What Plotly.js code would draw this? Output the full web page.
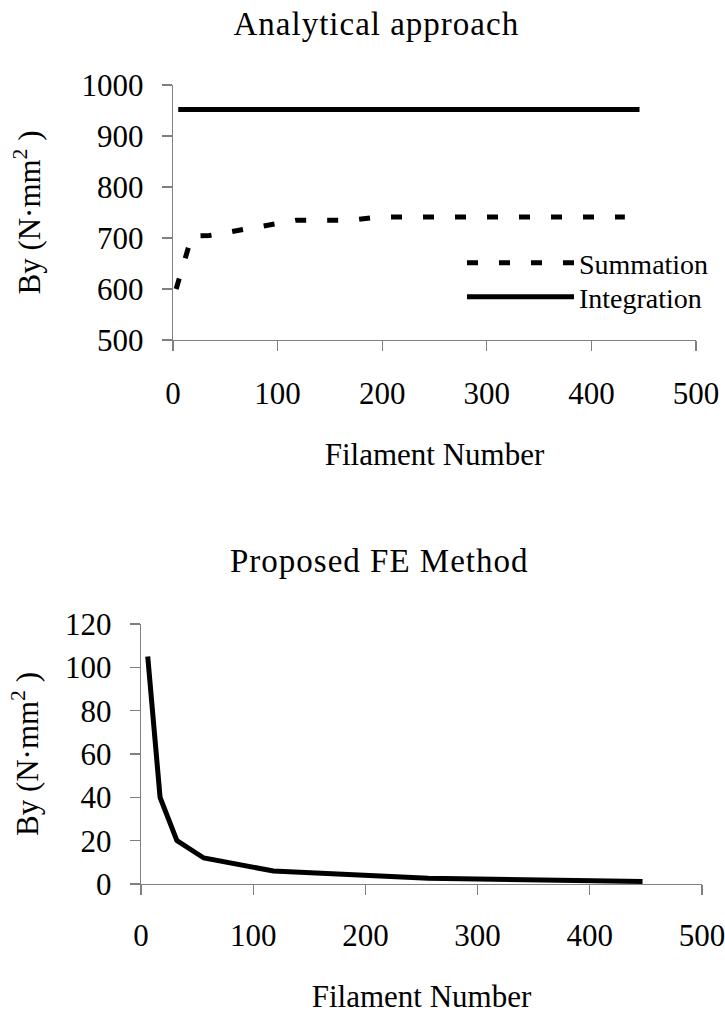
<!DOCTYPE html>
<html>
<head>
<meta charset="utf-8">
<script src="https://cdn.plot.ly/plotly-3.0.1.min.js"></script>
<style>
html,body{margin:0;padding:0;background:#fff}
#chart .annotation-text{letter-spacing:1px}
</style>
</head>
<body>
<div id="chart" style="width:725px;height:1014px"></div>
<script>
// ---- data ----
const sumX = [3, 18, 35, 118, 170, 195, 432];
const sumY = [600, 704, 705, 735, 735, 741, 741];
const intX = [5, 446];
const intY = [952, 952];
const feX = [6, 17, 32, 56, 118, 256, 447];
const feY = [105, 40, 20, 12, 6, 2.6, 1.2];
const xTicks = [0, 100, 200, 300, 400, 500];
const topYTicks = [500, 600, 700, 800, 900, 1000];
const botYTicks = [0, 20, 40, 60, 80, 100, 120];
const topTitle = 'Analytical approach';
const botTitle = 'Proposed FE Method';
const xTitle = 'Filament Number';
const yTitle = 'By (N·mm<sup>2</sup> )';

const FONT = 'Liberation Serif, Times New Roman, serif';
const W = 725, H = 1014;
const px = v => v / W;
const py = v => (H - v) / H;

const traces = [
  {x: sumX, y: sumY, name: 'Summation', type: 'scatter', mode: 'lines',
   line: {color: '#000', width: 5, dash: '11px,21px'}, xaxis: 'x', yaxis: 'y', legend: 'legend'},
  {x: intX, y: intY, name: 'Integration', type: 'scatter', mode: 'lines',
   line: {color: '#000', width: 5}, xaxis: 'x', yaxis: 'y', legend: 'legend2'},
  {x: feX, y: feY, name: 'Proposed FE', type: 'scatter', mode: 'lines',
   line: {color: '#000', width: 5}, xaxis: 'x2', yaxis: 'y2', showlegend: false}
];

const axCommon = {
  showline: true, linecolor: '#808080', linewidth: 1.3,
  ticks: 'outside', ticklen: 10, tickcolor: '#808080', tickwidth: 1.3,
  showgrid: false, zeroline: false,
  tickfont: {family: FONT, size: 31, color: '#000'},
  ticklabeloverflow: 'allow',
  fixedrange: true
};

const legCommon = {
  xanchor: 'left', yanchor: 'middle',
  bgcolor: 'rgba(0,0,0,0)', borderwidth: 0,
  font: {family: FONT, size: 28, color: '#000'},
  itemwidth: 107
};

const layout = {
  width: W, height: H,
  margin: {l: 0, r: 0, t: 0, b: 0},
  paper_bgcolor: '#fff', plot_bgcolor: '#fff',
  font: {family: FONT, color: '#000'},
  showlegend: true,
  legend: Object.assign({}, legCommon, {x: px(462), y: py(263)}),
  legend2: Object.assign({}, legCommon, {x: px(462), y: py(297)}),
  xaxis: Object.assign({}, axCommon, {
    domain: [px(173), px(696)], range: [0, 500], tickvals: xTicks,
    anchor: 'y', ticklabelstandoff: 15,
    title: {text: xTitle, font: {family: FONT, size: 31, color: '#000'}, standoff: 33}
  }),
  yaxis: Object.assign({}, axCommon, {
    domain: [py(340), py(85)], range: [500, 1000], tickvals: topYTicks,
    anchor: 'x', ticklabelstandoff: 12,
    title: {text: yTitle, font: {family: FONT, size: 31, color: '#000'}, standoff: 31}
  }),
  xaxis2: Object.assign({}, axCommon, {
    domain: [px(141), px(702)], range: [0, 500], tickvals: xTicks,
    anchor: 'y2', ticklabelstandoff: 13,
    title: {text: xTitle, font: {family: FONT, size: 31, color: '#000'}, standoff: 37}
  }),
  yaxis2: Object.assign({}, axCommon, {
    domain: [py(884), py(624)], range: [0, 120], tickvals: botYTicks,
    anchor: 'x2', ticklabelstandoff: 12,
    title: {text: yTitle, font: {family: FONT, size: 31, color: '#000'}, standoff: 17}
  }),
  annotations: [
    {text: topTitle, xref: 'paper', yref: 'paper', x: px(376), y: py(24),
     xanchor: 'center', yanchor: 'middle', showarrow: false,
     font: {family: FONT, size: 33, color: '#000'}},
    {text: botTitle, xref: 'paper', yref: 'paper', x: px(379), y: py(561),
     xanchor: 'center', yanchor: 'middle', showarrow: false,
     font: {family: FONT, size: 33, color: '#000'}}
  ]
};

Plotly.newPlot('chart', traces, layout, {displayModeBar: false, staticPlot: true});
</script>
</body>
</html>
